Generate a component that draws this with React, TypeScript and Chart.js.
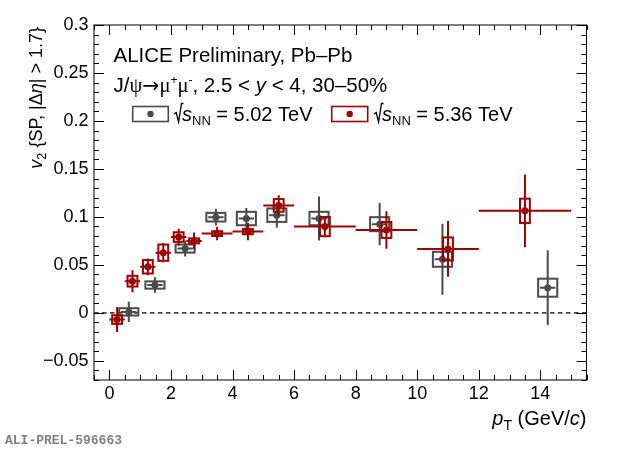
import React, { useEffect, useRef } from "react";
import { Chart, registerables } from "chart.js";
Chart.register(...registerables);

// ---- data: sqrt(sNN) = 5.02 TeV ----
const ptGrey = [0.63, 1.48, 2.46, 3.46, 4.45, 5.44, 6.81, 8.78, 10.82, 14.24];
const v2Grey = [0.001, 0.029, 0.067, 0.0997, 0.0983, 0.1018, 0.0983, 0.0924, 0.0558, 0.0262];
const statGrey = [0.0105, 0.008, 0.0084, 0.0087, 0.011, 0.013, 0.023, 0.022, 0.037, 0.039];
const systGrey = [0.0038, 0.0038, 0.0042, 0.0045, 0.007, 0.007, 0.007, 0.0073, 0.0078, 0.0094];

// ---- data: sqrt(sNN) = 5.36 TeV ----
const ptRed = [0.25, 0.75, 1.25, 1.75, 2.25, 2.75, 3.5, 4.5, 5.5, 7, 9, 11, 13.5];
const binHalfRed = [0.25, 0.25, 0.25, 0.25, 0.25, 0.25, 0.5, 0.5, 0.5, 1, 1, 1, 1.5];
const v2Red = [-0.007, 0.033, 0.048, 0.0627, 0.079, 0.075, 0.0826, 0.0847, 0.112, 0.0899, 0.0864, 0.0666, 0.1063];
const statRed = [0.013, 0.0115, 0.0087, 0.01, 0.0087, 0.0087, 0.007, 0.009, 0.0105, 0.011, 0.0195, 0.029, 0.038];
const systRed = [0.0045, 0.0056, 0.007, 0.0085, 0.005, 0.0026, 0.0025, 0.0028, 0.0066, 0.01, 0.0083, 0.012, 0.0127];

// ---- axes ----
const xTicks = [0, 2, 4, 6, 8, 10, 12, 14];
const xTickLabels = ["0", "2", "4", "6", "8", "10", "12", "14"];
const yTicks = [-0.05, 0, 0.05, 0.1, 0.15, 0.2, 0.25, 0.3];
const yTickLabels = ["\u22120.05", "0", "0.05", "0.1", "0.15", "0.2", "0.25", "0.3"];

const SANS = '"Liberation Sans", Arial, Helvetica, sans-serif';
const SERIF = '"Liberation Serif", "DejaVu Serif", serif';
const DEJAVU = '"DejaVu Sans", sans-serif';
const GREY = "#4a4a4a";
const RED = "#a00000";

type Seg = { t: string; size: number; style?: string; family?: string; dy?: number };

function fontOf(s: Seg) {
  return `${s.style ?? "normal"} normal ${s.size}px ${s.family ?? SANS}`;
}

function drawRich(ctx: CanvasRenderingContext2D, segs: Seg[], x: number, y: number, align: "left" | "right") {
  let w = 0;
  for (const s of segs) {
    ctx.font = fontOf(s);
    w += ctx.measureText(s.t).width;
  }
  let cx = align === "right" ? x - w : x;
  ctx.textAlign = "left";
  ctx.textBaseline = "alphabetic";
  for (const s of segs) {
    ctx.font = fontOf(s);
    ctx.fillText(s.t, cx, y + (s.dy ?? 0));
    cx += ctx.measureText(s.t).width;
  }
  return w;
}

function drawSeries(
  chart: any,
  xs: number[],
  ys: number[],
  stat: number[],
  syst: number[],
  xerr: (i: number) => number,
  boxHalf: number,
  color: string
) {
  const { ctx } = chart;
  const xs_ = chart.scales.x;
  const ys_ = chart.scales.y;
  ctx.save();
  ctx.strokeStyle = color;
  ctx.lineWidth = 2;
  for (let i = 0; i < xs.length; i++) {
    const px = xs_.getPixelForValue(xs[i]);
    const py = ys_.getPixelForValue(ys[i]);
    const bx0 = xs_.getPixelForValue(xs[i] - boxHalf);
    const bx1 = xs_.getPixelForValue(xs[i] + boxHalf);
    const by0 = ys_.getPixelForValue(ys[i] + syst[i]);
    const by1 = ys_.getPixelForValue(ys[i] - syst[i]);
    ctx.strokeRect(bx0, by0, bx1 - bx0, by1 - by0);
    ctx.beginPath();
    ctx.moveTo(px, ys_.getPixelForValue(ys[i] + stat[i]));
    ctx.lineTo(px, ys_.getPixelForValue(ys[i] - stat[i]));
    ctx.moveTo(xs_.getPixelForValue(xs[i] - xerr(i)), py);
    ctx.lineTo(xs_.getPixelForValue(xs[i] + xerr(i)), py);
    ctx.stroke();
  }
  ctx.restore();
}

function drawSqrtLabel(ctx: CanvasRenderingContext2D, x: number, yb: number, energy: string) {
  ctx.save();
  ctx.strokeStyle = "#000";
  ctx.lineWidth = 1.3;
  ctx.beginPath();
  ctx.moveTo(x, yb - 7);
  ctx.lineTo(x + 2.2, yb - 8.5);
  ctx.lineTo(x + 4.6, yb + 1);
  ctx.lineTo(x + 7.5, yb - 17.5);
  ctx.lineTo(x + 9.5, yb - 17.5);
  ctx.stroke();
  ctx.restore();
  ctx.fillStyle = "#000";
  drawRich(
    ctx,
    [
      { t: "s", size: 20, style: "italic" },
      { t: "NN", size: 13, dy: 4 },
      { t: " = " + energy + " TeV", size: 20 },
    ],
    x + 8,
    yb,
    "left"
  );
}

const alicePlugin = {
  id: "alice",
  beforeDatasetsDraw(chart: any) {
    const { ctx, chartArea } = chart;
    const y0 = chart.scales.y.getPixelForValue(0);
    ctx.save();
    ctx.strokeStyle = "#444";
    ctx.lineWidth = 1.6;
    ctx.setLineDash([4.5, 3.5]);
    ctx.beginPath();
    ctx.moveTo(chartArea.left, y0);
    ctx.lineTo(chartArea.right, y0);
    ctx.stroke();
    ctx.restore();
  },
  beforeDatasetDraw(chart: any, args: any) {
    if (args.index === 1) {
      drawSeries(chart, ptGrey, v2Grey, statGrey, systGrey, () => 0.25, 0.31, GREY);
    } else if (args.index === 0) {
      drawSeries(chart, ptRed, v2Red, statRed, systRed, (i) => binHalfRed[i], 0.16, RED);
    }
  },
  afterDraw(chart: any) {
    const { ctx, chartArea } = chart;
    const xs = chart.scales.x;
    const ys = chart.scales.y;
    const { left, right, top, bottom } = chartArea;
    ctx.save();
    // frame
    ctx.strokeStyle = "#000";
    ctx.lineWidth = 1;
    ctx.strokeRect(left, top, right - left, bottom - top);
    // x ticks (inward, bottom and top)
    ctx.beginPath();
    for (let k = -1; k <= 31; k++) {
      const v = k * 0.5;
      if (v < xs.min || v > xs.max) continue;
      const px = Math.round(xs.getPixelForValue(v)) + 0.5;
      const len = k % 4 === 0 ? 10 : 5;
      ctx.moveTo(px, bottom);
      ctx.lineTo(px, bottom - len);
      ctx.moveTo(px, top);
      ctx.lineTo(px, top + len);
    }
    // y ticks (inward, left and right)
    for (let k = -7; k <= 30; k++) {
      const v = k * 0.01;
      const py = Math.round(ys.getPixelForValue(v)) + 0.5;
      const len = k % 5 === 0 ? 10 : 5;
      ctx.moveTo(left, py);
      ctx.lineTo(left + len, py);
      ctx.moveTo(right, py);
      ctx.lineTo(right - len, py);
    }
    ctx.stroke();

    // header text
    ctx.fillStyle = "#000";
    drawRich(ctx, [{ t: "ALICE Preliminary, Pb\u2013Pb", size: 20.5 }], 113.5, 61.7, "left");
    drawRich(
      ctx,
      [
        { t: "J/", size: 20.5 },
        { t: "\u03C8", size: 20.5, family: SERIF },
        { t: "\u2192", size: 20.5, family: DEJAVU },
        { t: "\u03BC", size: 20.5, family: SERIF },
        { t: "+", size: 12, dy: -8 },
        { t: "\u03BC", size: 20.5, family: SERIF },
        { t: "-", size: 12, dy: -8 },
        { t: ", 2.5 < ", size: 20.5 },
        { t: "y", size: 20.5, style: "italic" },
        { t: " < 4, 30\u201350%", size: 20.5 },
      ],
      113.5,
      92.3,
      "left"
    );

    // legend
    const legY0 = 106.5;
    const legY1 = 121.5;
    ctx.lineWidth = 1.6;
    ctx.strokeStyle = GREY;
    ctx.strokeRect(132.7, legY0, 35.6, legY1 - legY0);
    ctx.fillStyle = GREY;
    ctx.beginPath();
    ctx.arc(150.5, (legY0 + legY1) / 2, 3.2, 0, Math.PI * 2);
    ctx.fill();
    ctx.strokeStyle = RED;
    ctx.strokeRect(331.7, legY0, 36, legY1 - legY0);
    ctx.fillStyle = RED;
    ctx.beginPath();
    ctx.arc(349.7, (legY0 + legY1) / 2, 3.2, 0, Math.PI * 2);
    ctx.fill();
    drawSqrtLabel(ctx, 174, 121, "5.02");
    drawSqrtLabel(ctx, 374, 121, "5.36");

    // x title
    ctx.fillStyle = "#000";
    drawRich(
      ctx,
      [
        { t: "p", size: 20, style: "italic" },
        { t: "T", size: 14, dy: 5 },
        { t: " (GeV/", size: 20 },
        { t: "c", size: 20, style: "italic" },
        { t: ")", size: 20 },
      ],
      right,
      425,
      "right"
    );

    // y title (rotated)
    ctx.save();
    ctx.translate(42, 27);
    ctx.rotate(-Math.PI / 2);
    drawRich(
      ctx,
      [
        { t: "v", size: 18, style: "italic" },
        { t: "2", size: 12.6, dy: 4 },
        { t: " {SP, |\u0394", size: 18 },
        { t: "\u03B7", size: 18, style: "italic" },
        { t: "| > 1.7}", size: 18 },
      ],
      0,
      0,
      "right"
    );
    ctx.restore();

    // preliminary id
    ctx.fillStyle = "#808080";
    ctx.font = 'bold 13px "Liberation Mono", "DejaVu Sans Mono", monospace';
    ctx.textAlign = "left";
    ctx.textBaseline = "alphabetic";
    ctx.fillText("ALI-PREL-596663", 5, 443.5);
    ctx.restore();
  },
};

export default function App() {
  const ref = useRef<HTMLCanvasElement | null>(null);
  useEffect(() => {
    if (!ref.current) return;
    const chart = new Chart(ref.current, {
      type: "scatter",
      data: {
        datasets: [
          {
            label: "5.36 TeV",
            data: ptRed.map((x, i) => ({ x, y: v2Red[i] })),
            pointRadius: 3.5,
            pointHoverRadius: 3.5,
            pointBackgroundColor: RED,
            pointBorderWidth: 0,
            showLine: false,
          },
          {
            label: "5.02 TeV",
            data: ptGrey.map((x, i) => ({ x, y: v2Grey[i] })),
            pointRadius: 3.5,
            pointHoverRadius: 3.5,
            pointBackgroundColor: GREY,
            pointBorderWidth: 0,
            showLine: false,
          },
        ],
      },
      options: {
        animation: false,
        responsive: false,
        maintainAspectRatio: false,
        devicePixelRatio: 1,
        events: [],
        layout: { padding: { top: 25, right: 33.5, bottom: 0, left: 0 } },
        plugins: { legend: { display: false }, tooltip: { enabled: false } },
        scales: {
          x: {
            type: "linear",
            min: -0.5,
            max: 15.5,
            grid: { display: false, drawTicks: false },
            border: { display: false },
            afterBuildTicks: (s: any) => {
              s.ticks = xTicks.map((v) => ({ value: v }));
            },
            afterFit: (s: any) => {
              s.height = 69;
            },
            ticks: {
              autoSkip: false,
              maxRotation: 0,
              padding: 3,
              color: "#000",
              font: { family: SANS, size: 18 },
              callback: (v: any) => {
                const i = xTicks.indexOf(Number(v));
                return i >= 0 ? xTickLabels[i] : "";
              },
            },
          },
          y: {
            type: "linear",
            min: -0.07,
            max: 0.3,
            grid: { display: false, drawTicks: false },
            border: { display: false },
            afterBuildTicks: (s: any) => {
              s.ticks = yTicks.map((v) => ({ value: v }));
            },
            afterFit: (s: any) => {
              s.width = 94;
            },
            ticks: {
              autoSkip: false,
              padding: 5.5,
              color: "#000",
              font: { family: SANS, size: 18 },
              callback: (v: any) => {
                const i = yTicks.findIndex((t) => Math.abs(t - Number(v)) < 1e-9);
                return i >= 0 ? yTickLabels[i] : "";
              },
            },
          },
        },
      },
      plugins: [alicePlugin],
    });
    return () => chart.destroy();
  }, []);
  return (
    <div style={{ position: "absolute", left: 0, top: 0, width: 620, height: 449, background: "#fff" }}>
      <canvas ref={ref} width={620} height={449} style={{ display: "block", width: 620, height: 449 }} />
    </div>
  );
}
